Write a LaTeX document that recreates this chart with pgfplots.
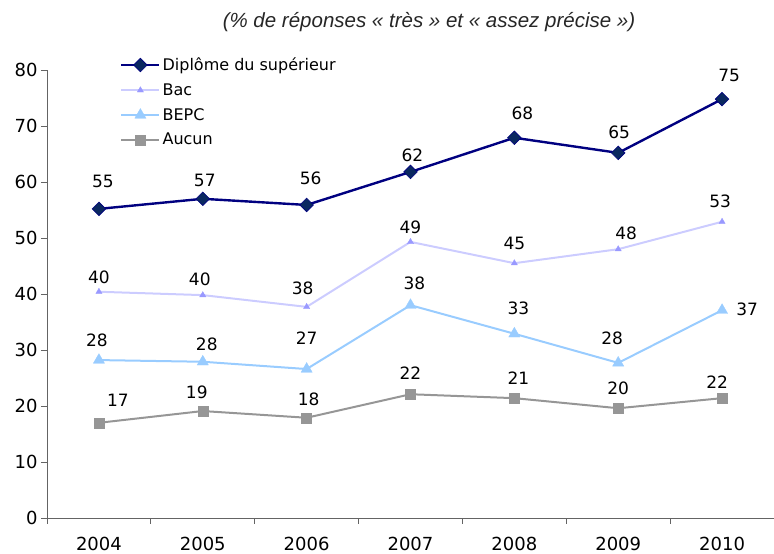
\documentclass[border=0pt]{standalone}
\usepackage{pgfplots}
\pgfplotsset{compat=1.18}
\usepackage{pgfplotstable}
\usepackage{fontspec}
\setmainfont{DejaVu Sans}
\newfontfamily\titlefont{Liberation Sans}
\definecolor{cnavy}{RGB}{0,0,128}
\definecolor{cnavyfill}{RGB}{10,40,96}
\definecolor{cbac}{RGB}{204,204,255}
\definecolor{cbacmark}{RGB}{153,153,255}
\definecolor{cbepc}{RGB}{153,204,255}
\definecolor{caucun}{RGB}{150,150,150}
\definecolor{caxis}{RGB}{100,100,100}

\pgfplotstableread{
x y lab dx dy
0 55.2 55 4 27
1 57.0 57 2 18
2 55.9 56 4 27
3 61.8 62 2 17
4 67.9 68 8 24
5 65.2 65 1 21
6 74.8 75 7 24
}\dip
\pgfplotstableread{
x y lab dx dy
0 40.4 40 0 14
1 39.8 40 -3 16
2 37.7 38 -4 19
3 49.3 49 0 15
4 45.5 45 0 20
5 48.0 48 8 16
6 52.9 53 -2 20
}\bac
\pgfplotstableread{
x y lab dx dy
0 28.2 28 -2 20
1 27.9 28 4 17
2 26.6 27 0 31
3 38.0 38 4 22
4 32.9 33 4 25
5 27.7 28 -6 25
6 37.1 37 25 1
}\bepc
\pgfplotstableread{
x y lab dx dy
0 17.0 17 19 22
1 19.1 19 -6 19
2 17.9 18 2 18
3 22.1 22 0 21
4 21.4 21 4 20
5 19.6 20 0 20
6 21.4 22 -5 16
}\aucun

\begin{document}
\begin{tikzpicture}
\path[use as bounding box] (-47pt,-36pt) rectangle (727pt,518pt);
\begin{axis}[
  scale only axis, width=727pt, height=448pt,
  xmin=-0.5, xmax=6.5, ymin=0, ymax=80,
  axis x line*=bottom, axis y line*=left,
  axis line style={caxis, line width=0.9pt, -},
  tick style={caxis, line width=0.9pt},
  tick align=outside, major tick length=6pt,
  xtick={-0.5,0.5,1.5,2.5,3.5,4.5,5.5,6.5}, xticklabels={},
  extra x ticks={0,1,2,3,4,5,6},
  extra x tick labels={2004,2005,2006,2007,2008,2009,2010},
  extra x tick style={major tick length=0pt},
  ytick={0,10,20,30,40,50,60,70,80},
  /pgf/number format/assume math mode=true,
  ticklabel style={font=\fontsize{18}{20}\selectfont, text=black},
  xticklabel style={yshift=-16pt},
  clip=false,
  legend style={at={(rel axis cs:0.1004,1.032)}, anchor=north west, draw=none, fill=none,
    font=\fontsize{16}{19}\selectfont, inner sep=0pt, row sep=7.5pt,
    cells={anchor=west}},
  legend image code/.code={\draw[mark repeat=2,mark phase=2,#1] plot coordinates {(0pt,0pt) (19pt,0pt) (38pt,0pt)};},
  every node near coord/.append style={anchor=center, text=black, font=\fontsize{17}{20}\selectfont},
  visualization depends on={\thisrow{dx} \as \dx},
  visualization depends on={\thisrow{dy} \as \dy},
  nodes near coords, point meta=explicit symbolic,
  every node near coord/.append style={xshift=\dx pt, yshift=\dy pt},
]
\addplot[cnavy, line width=2.4pt, mark=square*, mark size=4.8pt,
  mark options={rotate=45, fill=cnavyfill, draw=cnavy, line width=0.6pt}]
  table[x=x, y=y, meta=lab] {\dip};
\addlegendentry{Diplôme du supérieur}
\addplot[cbac, line width=2pt, mark=triangle*, mark size=3.6pt,
  mark options={fill=cbacmark, draw=cbacmark, line width=0.3pt}]
  table[x=x, y=y, meta=lab] {\bac};
\addlegendentry{Bac}
\addplot[cbepc, line width=2pt, mark=triangle*, mark size=6.5pt,
  mark options={fill=cbepc, draw=cbepc, line width=0.3pt}]
  table[x=x, y=y, meta=lab] {\bepc};
\addlegendentry{BEPC}
\addplot[caucun, line width=2pt, mark=square*, mark size=5pt,
  mark options={fill=caucun, draw=caucun, line width=0.3pt}]
  table[x=x, y=y, meta=lab] {\aucun};
\addlegendentry{Aucun}
\end{axis}
\node[font=\titlefont\itshape\fontsize{20.5}{24}\selectfont, text=black!85] at (382pt,496pt)
  {(\% de réponses « très » et « assez précise »)};
\end{tikzpicture}
\end{document}
